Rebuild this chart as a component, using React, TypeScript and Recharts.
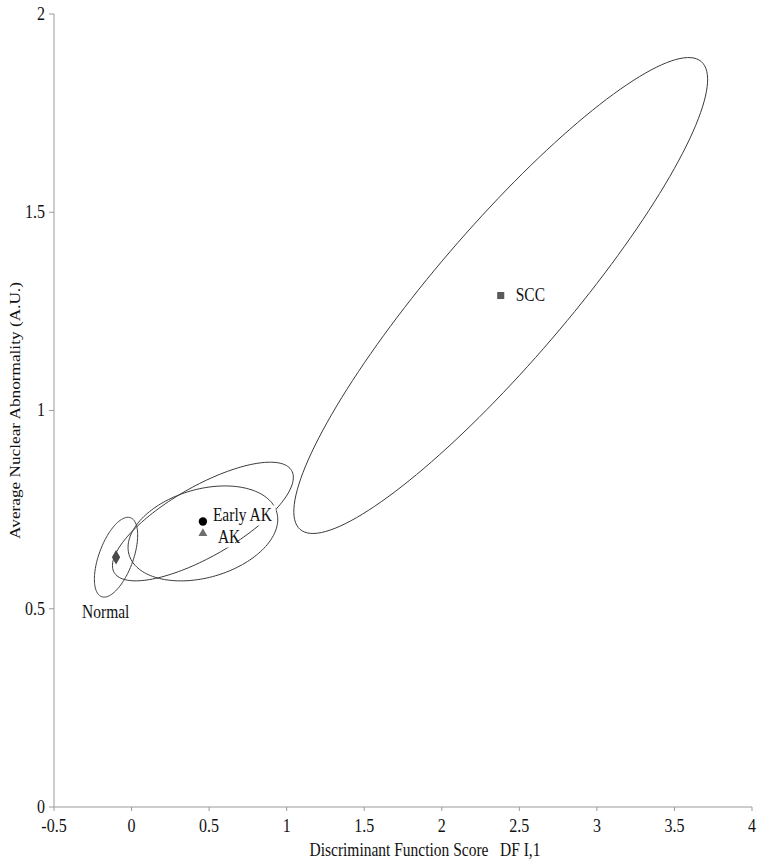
import React from 'react'
import { ScatterChart, Scatter, XAxis, YAxis, Symbols } from 'recharts'

// group means (DF I,1 score vs average nuclear abnormality)
const groups = ['Normal', 'Early AK', 'AK', 'SCC']
const dfScores = [-0.1, 0.46, 0.46, 2.38]
const abnormality = [0.63, 0.72, 0.69, 1.29]
const markerTypes = ['diamond', 'circle', 'triangle', 'square']
const markerColors = ['#4a4a4a', '#000000', '#6e6e6e', '#5a5a5a']
const markerSizes = [60, 55, 35, 50]

// confidence ellipses: centre + two conjugate semi-axes, in data units
const ellipseCx = [-0.1, 0.46, 0.46, 2.38]
const ellipseCy = [0.63, 0.72, 0.69, 1.29]
const majorDx = [0.093, 0.572, 0.476, 1.293]
const majorDy = [0.0996, 0.1286, 0.0537, 0.59]
const minorDx = [0.104, 0.1133, 0.0797, 0.328]
const minorDy = [-0.0146, -0.0765, -0.107, -0.11]

const xTicks = [-0.5, 0, 0.5, 1, 1.5, 2, 2.5, 3, 3.5, 4]
const yTicks = [0, 0.5, 1, 1.5, 2]

// label placement relative to marker (style only)
const labelDx = [-34, 10, 15, 15]
const labelDy = [55, -6, 4, 0]

const FONT = '"Liberation Serif", "Times New Roman", serif'
const STRETCH = 1.15 // source figure is a bit taller than wide
const STEPS = 160

function outline(i: number) {
  const pts = []
  for (let k = 0; k <= STEPS; k++) {
    const t = (2 * Math.PI * k) / STEPS
    pts.push({
      x: ellipseCx[i] + majorDx[i] * Math.cos(t) + minorDx[i] * Math.sin(t),
      y: ellipseCy[i] + majorDy[i] * Math.cos(t) + minorDy[i] * Math.sin(t),
    })
  }
  return pts
}

const XTick = (p: any) => (
  <text
    transform={`translate(${p.x} ${p.y + 21}) scale(1 ${STRETCH})`}
    textAnchor="middle"
    style={{ fontSize: 16, fill: '#111', fontFamily: FONT }}
  >
    {String(p.payload.value)}
  </text>
)

const YTick = (p: any) => (
  <text
    transform={`translate(${p.x} ${p.y}) scale(1 ${STRETCH})`}
    textAnchor="end"
    dominantBaseline="central"
    style={{ fontSize: 16, fill: '#111', fontFamily: FONT }}
  >
    {String(p.payload.value)}
  </text>
)

export default function App() {
  return (
    <div style={{ position: 'absolute', left: 0, top: 0, background: '#fff' }}>
      <ScatterChart width={762} height={864} margin={{ top: 14, right: 10, bottom: 0, left: 0 }}>
        <XAxis
          type="number"
          dataKey="x"
          domain={[-0.5, 4]}
          ticks={xTicks}
          allowDataOverflow
          height={57}
          stroke="#9a9a9a"
          tickSize={4}
          tickMargin={0}
          tick={<XTick />}
          label={{
            content: (p: any) => {
              const vb = p.viewBox || { x: 54, width: 698 }
              const cx = vb.x + vb.width / 2 + 22
              return (
                <text
                  transform={`translate(${cx} 856) scale(1 ${STRETCH})`}
                  textAnchor="middle"
                  style={{ fontSize: 15.5, fill: '#111', fontFamily: FONT }}
                >
                  {'Discriminant Function Score\u00a0\u00a0\u00a0DF I,1'}
                </text>
              )
            },
          }}
        />
        <YAxis
          type="number"
          dataKey="y"
          domain={[0, 2]}
          ticks={yTicks}
          allowDataOverflow
          width={54}
          stroke="#9a9a9a"
          tickSize={5}
          tickMargin={4}
          tick={<YTick />}
          label={{
            content: (p: any) => {
              const vb = p.viewBox || { y: 14, height: 793 }
              const cy = vb.y + vb.height / 2
              return (
                <text
                  transform={`translate(15 ${cy}) rotate(-90) scale(${STRETCH} 1)`}
                  textAnchor="middle"
                  dominantBaseline="central"
                  style={{ fontSize: 15, fill: '#111', fontFamily: FONT }}
                >
                  Average Nuclear Abnormality (A.U.)
                </text>
              )
            },
          }}
        />
        {groups.map((g, i) => (
          <Scatter
            key={'ell-' + g}
            data={outline(i)}
            line={{ stroke: '#3a3a3a', strokeWidth: 1 }}
            lineType="joint"
            shape={() => <g />}
            fill="none"
            isAnimationActive={false}
          />
        ))}
        {groups.map((g, i) => (
          <Scatter
            key={'pt-' + g}
            data={[{ x: dfScores[i], y: abnormality[i] }]}
            isAnimationActive={false}
            shape={(p: any) => {
              const w = g.length * 7.6
              const tx = p.cx + labelDx[i]
              const ty = p.cy + labelDy[i]
              return (
                <g>
                  <rect x={tx - 2} y={ty - 10} width={w + 4} height={20} fill="#fff" />
                  <Symbols
                    type={markerTypes[i] as any}
                    size={markerSizes[i]}
                    cx={p.cx}
                    cy={p.cy}
                    fill={markerColors[i]}
                  />
                  <text
                    transform={`translate(${tx} ${ty}) scale(1 ${STRETCH})`}
                    dominantBaseline="central"
                    style={{ fontSize: 15.5, fill: '#111', fontFamily: FONT }}
                  >
                    {g}
                  </text>
                </g>
              )
            }}
          />
        ))}
      </ScatterChart>
    </div>
  )
}
